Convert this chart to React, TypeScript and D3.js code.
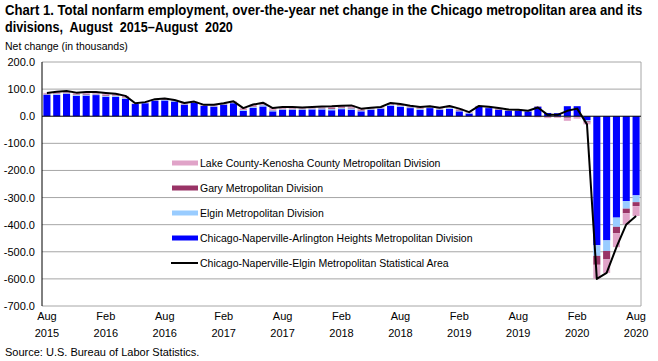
import React, { useEffect, useRef } from "react";
import * as d3 from "d3";

// over-the-year net change, thousands, Aug 2015 .. Aug 2020 (61 months)
const chicagoDiv = [
  79, 79, 82, 75, 76, 78, 72, 71, 64, 45, 48, 57, 58, 54, 42, 49, 38, 35, 42, 48,
  20, 31, 36, 18, 23, 23, 23, 25, 25, 22, 26, 24, 18, 23, 28, 38, 34, 30, 23, 30,
  23, 27, 18, 10, 36, 30, 23, 20, 20, 18, 35, 12, 11, 37, 37, -14, -476, -458, -374, -313,
  -292,
];
const elginDiv = [
  2, 3, 3, 4, 4, 3, 4, 4, 3, 1, 1, 2, 2, 2, 2, 2, 1, 2, 2, 2,
  3, 4, 5, 4, 3, 3, 3, 3, 4, 5, 4, 5, 3, 3, 2, 4, 4, 3, 4, 3,
  3, 4, 3, 2, 1, 2, 2, 2, 2, 2, 0, -1, -1, -4, -2, -5, -39, -39, -34, -28,
  -25,
];
const garyDiv = [
  1, 2, 2, 2, 3, 2, 3, 2, 2, 0, 1, 1, 1, 1, 1, 1, 1, 1, 1, 1,
  2, 2, 2, 2, 2, 2, 1, 1, 2, 3, 3, 3, 2, 1, 1, 2, 2, 2, 2, 1,
  1, 2, 2, 1, 1, 1, 2, 1, 1, 2, 1, 0, 0, -3, -1, -4, -33, -31, -24, -17,
  -15,
];
const lakeDiv = [
  4, 6, 6, 6, 6, 6, 7, 6, 6, 2, 2, 3, 4, 3, 4, 2, 2, 4, 3, 4,
  5, 6, 7, 6, 6, 6, 5, 5, 5, 7, 6, 8, 5, 4, 3, 5, 5, 4, 5, 3,
  4, 5, 5, 2, 0, 2, 3, 2, 1, -2, -4, -6, -5, -10, -6, -7, -52, -50, -51, -41,
  -36,
];
const msaTotal = [
  86, 90, 93, 87, 89, 89, 86, 83, 75, 48, 52, 63, 65, 60, 49, 54, 42, 42, 48, 55,
  30, 43, 50, 30, 34, 34, 32, 34, 36, 37, 39, 40, 28, 31, 34, 49, 45, 39, 34, 37,
  31, 38, 28, 15, 38, 35, 30, 25, 24, 20, 32, 5, 5, 20, 28, -30, -600, -578, -483, -399,
  -368,
];

const tickLabels = [
  ["Aug", "2015"], ["Feb", "2016"], ["Aug", "2016"], ["Feb", "2017"], ["Aug", "2017"],
  ["Feb", "2018"], ["Aug", "2018"], ["Feb", "2019"], ["Aug", "2019"], ["Feb", "2020"],
  ["Aug", "2020"],
];

const seriesKeys = ["chicago", "elgin", "gary", "lake"];
const seriesColors = ["#0000ff", "#99ccff", "#993366", "#e0a3c8"];
const legendItems = [
  { label: "Lake County-Kenosha County Metropolitan Division", color: "#e0a3c8", line: false },
  { label: "Gary Metropolitan Division", color: "#993366", line: false },
  { label: "Elgin Metropolitan Division", color: "#99ccff", line: false },
  { label: "Chicago-Naperville-Arlington Heights Metropolitan Division", color: "#0000ff", line: false },
  { label: "Chicago-Naperville-Elgin Metropolitan Statistical Area", color: "#000000", line: true },
];

const titleLines = [
  "Chart 1. Total nonfarm employment, over-the-year net change in the Chicago metropolitan area and its",
  "divisions,  August  2015\u2013August  2020",
];

const FONT = "'Liberation Sans', Arial, sans-serif";

const NonfarmChart = () => {
  const svgRef = useRef<SVGSVGElement>(null);

  useEffect(() => {
    document.body.style.margin = "0";
    const width = 658;
    const height = 361;
    const plot = { left: 42, right: 641, top: 62, bottom: 306 };

    const svg = d3.select(svgRef.current).attr("width", width).attr("height", height);
    svg.selectAll("*").remove();

    const months = d3.range(chicagoDiv.length);
    const rows = months.map((i) => ({
      month: i,
      chicago: chicagoDiv[i],
      elgin: elginDiv[i],
      gary: garyDiv[i],
      lake: lakeDiv[i],
    }));

    const x = d3.scaleBand<number>()
      .domain(months)
      .range([plot.left, plot.right])
      .paddingInner(0.28)
      .paddingOuter(0.14);

    const y = d3.scaleLinear().domain([-700, 200]).range([plot.bottom, plot.top]);

    const fmt = d3.formatLocale({
      decimal: ".", thousands: ",", grouping: [3], currency: ["$", ""], minus: "-",
    }).format(".1f");

    // title: condensed bold, squeezed to the reference width
    const titleWidths = [638, 228];
    titleLines.forEach((t, i) => {
      const g = svg.append("g").attr("transform", `translate(5,${15 + i * 17})`);
      const txt = g.append("text")
        .attr("font-family", FONT).attr("font-size", 14).attr("font-weight", "bold")
        .attr("xml:space", "preserve")
        .text(t);
      const w = (txt.node() as SVGTextElement).getComputedTextLength();
      if (w > 0) txt.attr("transform", `scale(${titleWidths[i] / w},1)`);
    });

    const sub = svg.append("g").attr("transform", "translate(5,50)");
    const subTxt = sub.append("text")
      .attr("font-family", FONT).attr("font-size", 11)
      .text("Net change (in thousands)");
    const sw = (subTxt.node() as SVGTextElement).getComputedTextLength();
    if (sw > 0) subTxt.attr("transform", `scale(${123 / sw},1)`);

    // grid
    const ticks = d3.range(-700, 201, 100);
    svg.append("g").selectAll("line")
      .data(ticks.filter((t) => t !== 0))
      .join("line")
      .attr("x1", plot.left).attr("x2", plot.right)
      .attr("y1", (d) => y(d)).attr("y2", (d) => y(d))
      .attr("stroke", "#a6a6a6").attr("stroke-width", 1);
    svg.append("line")
      .attr("x1", plot.right).attr("x2", plot.right)
      .attr("y1", plot.top).attr("y2", plot.bottom)
      .attr("stroke", "#a6a6a6");

    svg.append("g").selectAll("text")
      .data(ticks)
      .join("text")
      .attr("x", 35).attr("y", (d) => y(d) + 4)
      .attr("text-anchor", "end")
      .attr("font-family", FONT).attr("font-size", 11)
      .text((d) => fmt(d));

    // stacked bars
    const stack = d3.stack<any>().keys(seriesKeys).offset(d3.stackOffsetDiverging);
    const layers = stack(rows);

    svg.append("g").selectAll("g")
      .data(layers)
      .join("g")
      .attr("fill", (_, i) => seriesColors[i])
      .selectAll("rect")
      .data((d) => d)
      .join("rect")
      .attr("x", (d) => x(d.data.month) as number)
      .attr("width", x.bandwidth())
      .attr("y", (d) => y(Math.max(d[0], d[1])))
      .attr("height", (d) => Math.abs(y(d[0]) - y(d[1])));

    // axes lines
    svg.append("line")
      .attr("x1", plot.left).attr("x2", plot.right)
      .attr("y1", y(0)).attr("y2", y(0))
      .attr("stroke", "#000").attr("stroke-width", 1);
    svg.append("line")
      .attr("x1", plot.left).attr("x2", plot.left)
      .attr("y1", plot.top).attr("y2", plot.bottom)
      .attr("stroke", "#000").attr("stroke-width", 1);

    // total MSA line
    const line = d3.line<number>()
      .x((_, i) => (x(i) as number) + x.bandwidth() / 2)
      .y((d) => y(d));
    svg.append("path")
      .datum(msaTotal)
      .attr("fill", "none")
      .attr("stroke", "#000")
      .attr("stroke-width", 2)
      .attr("stroke-linejoin", "round")
      .attr("d", line);

    // x tick labels
    const xl = svg.append("g").selectAll("g")
      .data(tickLabels)
      .join("g")
      .attr("transform", (_, i) => `translate(${(x(i * 6) as number) + x.bandwidth() / 2},0)`)
      .attr("font-family", FONT).attr("font-size", 11).attr("text-anchor", "middle");
    xl.append("text").attr("y", 320).text((d) => d[0]);
    xl.append("text").attr("y", 337).text((d) => d[1]);

    // legend
    const lg = svg.append("g").selectAll("g")
      .data(legendItems)
      .join("g")
      .attr("transform", (_, i) => `translate(172,${163 + i * 25})`);
    lg.append("line")
      .attr("x1", (d) => (d.line ? -1 : 0)).attr("x2", 26)
      .attr("y1", 0).attr("y2", 0)
      .attr("stroke", (d) => d.color)
      .attr("stroke-width", (d) => (d.line ? 2 : 5));
    lg.append("text")
      .attr("x", 28).attr("y", 4)
      .attr("font-family", FONT).attr("font-size", 10.5)
      .text((d) => d.label);

    svg.append("text").attr("x", 5).attr("y", 356)
      .attr("font-family", FONT).attr("font-size", 11)
      .text("Source: U.S. Bureau of Labor Statistics.");
  }, []);

  return <svg ref={svgRef} style={{ display: "block" }}></svg>;
};

export default function App() {
  return <NonfarmChart />;
}
